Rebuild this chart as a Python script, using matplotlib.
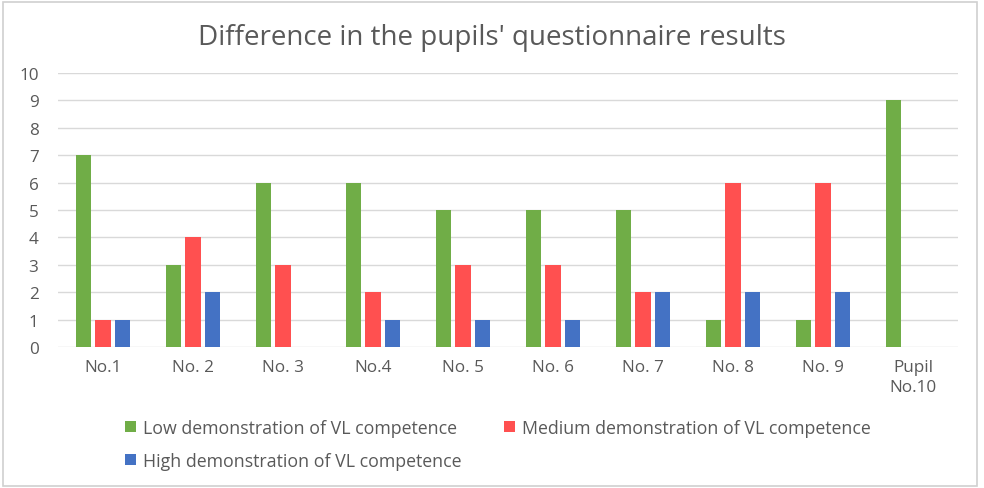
import numpy as np
import matplotlib.pyplot as plt
from matplotlib.patches import Rectangle

plt.rcParams['font.family'] = ['Open Sans', 'DejaVu Sans']

categories = ['No.1', 'No. 2', 'No. 3', 'No.4', 'No. 5', 'No. 6', 'No. 7', 'No. 8', 'No. 9', 'Pupil\nNo.10']
low = [7, 3, 6, 6, 5, 5, 5, 1, 1, 9]
medium = [1, 4, 3, 2, 3, 3, 2, 6, 6, 0]
high = [1, 2, 0, 1, 1, 1, 2, 2, 2, 0]
series_names = ['Low demonstration of VL competence',
                'Medium demonstration of VL competence',
                'High demonstration of VL competence']

colors = ['#70AD47', '#FF5050', '#4472C4']
grey = '#595959'

fig = plt.figure(figsize=(9.84, 4.89), dpi=100)
ax = fig.add_axes([58 / 984, 1 - 348 / 489, 900 / 984, 274 / 489])

x = np.arange(len(categories))
w = 0.17
bars = []
for vals, off, c, name in zip([low, medium, high], [-0.22, 0, 0.22], colors, series_names):
    bars.append(ax.bar(x + off, vals, width=w, color=c, label=name, zorder=3))

ax.set_xlim(-0.5, len(categories) - 0.5)
ax.set_ylim(0, 10)
ax.set_yticks(range(0, 11))
ax.set_xticks(x)
ax.set_xticklabels(categories, linespacing=1.3)
ax.grid(axis='y', color='#D9D9D9', linewidth=1, zorder=0)
for s in ax.spines.values():
    s.set_visible(False)
ax.tick_params(axis='both', length=0, colors=grey, labelsize=12.3)
ax.tick_params(axis='x', pad=9)
ax.tick_params(axis='y', pad=14)

fig.text(0.5, 1 - 38 / 489, "Difference in the pupils' questionnaire results",
         ha='center', va='center', fontsize=20, color=grey)

# row-wise order: Low, Medium on first row, High on second
order = [0, 2, 1]
leg = fig.legend([bars[i] for i in order], [series_names[i] for i in order],
                 loc='upper left', bbox_to_anchor=(125 / 984, 1 - 420 / 489), ncol=2,
                 frameon=False, fontsize=12.8, handlelength=0.6, handleheight=0.6,
                 handletextpad=0.4, columnspacing=2.4, labelspacing=0.85,
                 borderaxespad=0, borderpad=0)
for t in leg.get_texts():
    t.set_color(grey)

fig.patches.append(Rectangle((3 / 984, 2 / 489), 974 / 984, 484 / 489, transform=fig.transFigure,
                             fill=False, edgecolor='#D0D0D0', linewidth=1.2))

fig.savefig('out.png', dpi=100)
